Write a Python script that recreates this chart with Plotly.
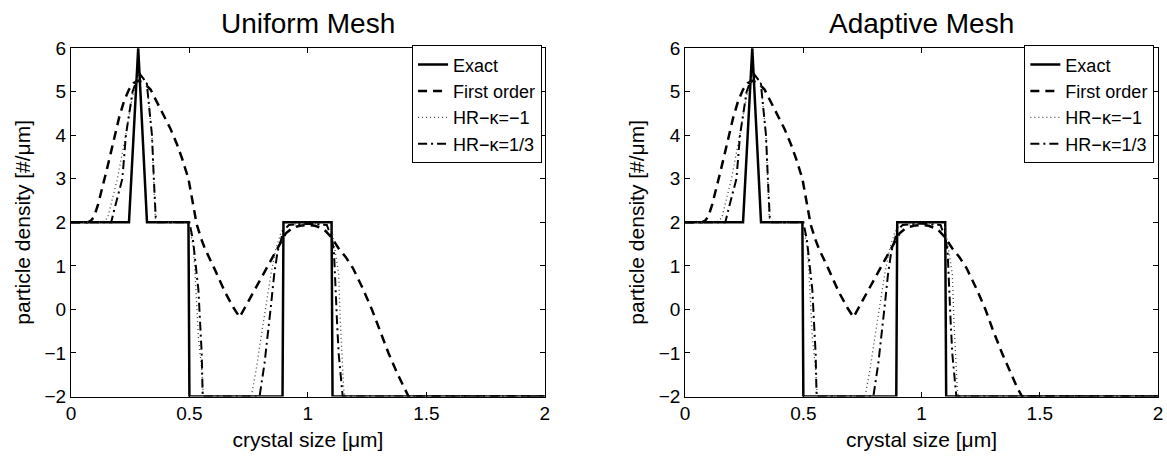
import plotly.graph_objects as go

# ---- data -------------------------------------------------------------
# Exact solution
exact_x = [0.0, 0.245, 0.284, 0.321, 0.496, 0.500, 0.893, 0.897, 1.100, 1.104, 2.0]
exact_y = [2.0, 2.0, 6.0, 2.0, 2.0, -2.0, -2.0, 2.0, 2.0, -2.0, -2.0]

# First order scheme
first_x = [0.0, 0.07, 0.085, 0.098, 0.115, 0.133, 0.15, 0.168, 0.185, 0.203, 0.225,
           0.245, 0.265, 0.285, 0.30, 0.318, 0.336, 0.36, 0.391, 0.42, 0.447,
           0.47, 0.496, 0.515, 0.531, 0.55, 0.566, 0.607, 0.65, 0.685, 0.712,
           0.735, 0.76, 0.80, 0.85, 0.875, 0.893, 0.907, 0.93, 0.95, 0.975,
           1.005, 1.03, 1.05, 1.075, 1.095, 1.10, 1.13, 1.16, 1.19, 1.23,
           1.27, 1.30, 1.34, 1.38, 1.405, 1.425, 2.0]
first_y = [2.0, 2.0, 2.04, 2.13, 2.42, 2.78, 3.18, 3.59, 4.0, 4.4, 4.8,
           5.05, 5.2, 5.25, 5.22, 5.15, 5.05, 4.8, 4.46, 4.15, 3.8,
           3.45, 3.0, 2.4, 1.95, 1.62, 1.39, 0.92, 0.4, 0.05, -0.18,
           0.05, 0.3, 0.7, 1.2, 1.42, 1.61, 1.75, 1.85, 1.9, 1.93,
           1.94, 1.92, 1.88, 1.8, 1.69, 1.65, 1.4, 1.2, 0.95, 0.5,
           0.0, -0.45, -1.0, -1.5, -1.8, -2.0, -2.0]

# High resolution scheme, kappa = -1
hrm1_x = [0.0, 0.13, 0.155, 0.196, 0.231, 0.26, 0.28, 0.292, 0.32, 0.342, 0.349,
          0.356, 0.362, 0.497, 0.503, 0.517, 0.524, 0.531, 0.538, 0.552, 0.559,
          0.761, 0.782, 0.802, 0.823, 0.844, 0.865, 0.886, 0.90, 0.93, 1.0,
          1.07, 1.10, 1.108, 1.13, 1.137, 1.151, 1.156, 2.0]
hrm1_y = [2.0, 2.0, 2.1, 3.0, 4.0, 4.9, 5.3, 5.4, 5.2, 4.0, 3.0,
          2.1, 2.0, 2.0, 1.83, 1.39, 0.81, 0.08, -0.65, -1.38, -2.0,
          -2.0, -1.38, -0.65, 0.08, 0.81, 1.39, 1.76, 1.88, 1.96, 1.98,
          1.96, 1.88, 1.6, 0.81, -0.29, -1.82, -2.0, -2.0]

# High resolution scheme, kappa = 1/3
hr13_x = [0.0, 0.17, 0.182, 0.217, 0.232, 0.26, 0.28, 0.292, 0.32, 0.342, 0.35,
          0.358, 0.365, 0.500, 0.515, 0.524, 0.538, 0.545, 0.552, 0.556,
          0.796, 0.817, 0.83, 0.844, 0.858, 0.872, 0.886, 0.895, 0.92, 1.0,
          1.08, 1.102, 1.11, 1.116, 1.123, 1.13, 1.144, 1.147, 2.0]
hr13_y = [2.0, 2.0, 2.27, 3.0, 4.0, 5.0, 5.3, 5.4, 5.2, 4.0, 3.0,
          2.1, 2.0, 2.0, 1.6, 1.18, 0.45, -0.29, -1.02, -2.0,
          -2.0, -1.24, -0.65, 0.08, 0.81, 1.33, 1.58, 1.8, 1.94, 1.97,
          1.94, 1.61, 1.33, 0.45, -0.29, -1.02, -1.9, -2.0, -2.0]

series_names = ["Exact", "First order", "HR\u2212\u03ba=\u22121", "HR\u2212\u03ba=1/3"]
panel_titles = ["Uniform Mesh", "Adaptive Mesh"]
x_ticks = [0, 0.5, 1, 1.5, 2]
y_ticks = [-2, -1, 0, 1, 2, 3, 4, 5, 6]

FONT = "Liberation Sans, Arial, Helvetica, sans-serif"

styles = [
    dict(color="black", width=2.5, dash="solid"),
    dict(color="black", width=2.5, dash="9px,6px"),
    dict(color="#444444", width=1.3, dash="1px,3px"),
    dict(color="black", width=2, dash="9px,4px,2px,4px"),
]
series = [(exact_x, exact_y), (first_x, first_y), (hrm1_x, hrm1_y), (hr13_x, hr13_y)]

fig = go.Figure()

W, H = 1167, 460
x_domains = [[66.5 / W, 544.5 / W], [686 / W, 1163 / W]]
y_domain = [1 - 405 / H, 1 - 40 / H]

for p in range(2):
    xa = "x" if p == 0 else "x2"
    ya = "y" if p == 0 else "y2"
    lg = "legend" if p == 0 else "legend2"
    for (sx, sy), name, st in zip(series, series_names, styles):
        fig.add_trace(go.Scatter(x=sx, y=sy, mode="lines", name=name, line=st,
                                 xaxis=xa, yaxis=ya, legend=lg))

axis_common = dict(
    showgrid=False, zeroline=False, showline=True, linecolor="black", linewidth=1,
    mirror="allticks", ticks="inside", ticklen=5, tickwidth=1, tickcolor="black",
    tickfont=dict(family=FONT, size=19, color="black"),
)

for p in range(2):
    sfx = "" if p == 0 else "2"
    fig.update_layout(**{
        f"xaxis{sfx}": dict(axis_common, domain=x_domains[p], range=[0, 2],
                            tickvals=x_ticks, ticktext=[str(t) for t in x_ticks],
                            anchor=f"y{sfx}",
                            title=dict(text="crystal size [\u03bcm]", standoff=8,
                                       font=dict(family=FONT, size=21, color="black"))),
        f"yaxis{sfx}": dict(axis_common, domain=y_domain, range=[-2, 6],
                            tickvals=y_ticks, anchor=f"x{sfx}",
                            title=dict(text="particle density [#/\u03bcm]", standoff=8,
                                       font=dict(family=FONT, size=21, color="black"))),
    })
    fig.add_annotation(text=panel_titles[p], xref="paper", yref="paper",
                       x=sum(x_domains[p]) / 2, y=1 - 14 / H, xanchor="center",
                       yanchor="middle", showarrow=False,
                       font=dict(family=FONT, size=28, color="black"))

legend_common = dict(
    xanchor="right", yanchor="top", bgcolor="white", bordercolor="black",
    borderwidth=1, font=dict(family=FONT, size=18, color="black"),
    tracegroupgap=0, itemwidth=30,
)
fig.update_layout(
    legend=dict(legend_common, x=541.7 / W, y=1 - 37 / H),
    legend2=dict(legend_common, x=1159.3 / W, y=1 - 37 / H),
    width=W, height=H, margin=dict(l=0, r=0, t=0, b=0),
    paper_bgcolor="white", plot_bgcolor="white", showlegend=True,
)

fig.write_html("out.html")
